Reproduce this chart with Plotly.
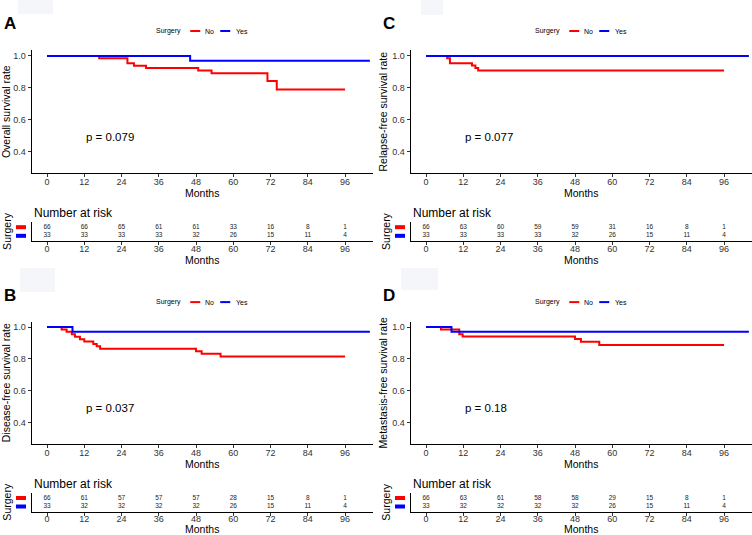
import plotly.graph_objects as go

W, H = 752, 535
FONT = "Arial, Liberation Sans, sans-serif"
RED = "#FF0000"
BLUE = "#0000FF"

# ---------------- data ----------------
month_ticks = [0, 12, 24, 36, 48, 60, 72, 84, 96]
surv_ticks = [0.4, 0.6, 0.8, 1.0]
surv_tick_labels = ["0.4", "0.6", "0.8", "1.0"]
groups = ["No", "Yes"]

# A: overall survival
a_no_t = [0, 16.8, 25.9, 28.0, 31.9, 48.7, 53.0, 71.0, 74.0, 96]
a_no_s = [1.0, 0.985, 0.954, 0.939, 0.924, 0.908, 0.892, 0.843, 0.790, 0.790]
a_yes_t = [0, 46.1, 104]
a_yes_s = [1.0, 0.970, 0.970]
a_risk_no = [66, 66, 65, 61, 61, 33, 16, 8, 1]
a_risk_yes = [33, 33, 33, 33, 32, 26, 15, 11, 4]

# B: disease-free survival
b_no_t = [0, 4.7, 6.3, 8.0, 9.0, 10.6, 12.0, 14.9, 16.0, 17.1, 48.0, 49.8, 55.9, 96]
b_no_s = [1.0, 0.985, 0.970, 0.955, 0.939, 0.924, 0.909, 0.894, 0.879, 0.864,
          0.848, 0.833, 0.815, 0.815]
b_yes_t = [0, 8.2, 104]
b_yes_s = [1.0, 0.970, 0.970]
b_risk_no = [66, 61, 57, 57, 57, 28, 15, 8, 1]
b_risk_yes = [33, 32, 32, 32, 32, 26, 15, 11, 4]

# C: relapse-free survival
c_no_t = [0, 6.8, 7.7, 14.8, 15.9, 16.8, 96]
c_no_s = [1.0, 0.985, 0.955, 0.940, 0.924, 0.909, 0.909]
c_yes_t = [0, 104]
c_yes_s = [1.0, 1.0]
c_risk_no = [66, 63, 60, 59, 59, 31, 16, 8, 1]
c_risk_yes = [33, 33, 33, 33, 32, 26, 15, 11, 4]

# D: metastasis-free survival
d_no_t = [0, 4.8, 10.7, 11.8, 48.0, 49.9, 55.8, 96]
d_no_s = [1.0, 0.985, 0.955, 0.940, 0.925, 0.908, 0.887, 0.887]
d_yes_t = [0, 8.2, 104]
d_yes_s = [1.0, 0.970, 0.970]
d_risk_no = [66, 63, 61, 58, 58, 29, 15, 8, 1]
d_risk_yes = [33, 32, 32, 32, 32, 26, 15, 11, 4]

panel_letters = ["A", "B", "C", "D"]
y_titles = ["Overall survival rate", "Disease-free survival rate",
            "Relapse-free survival rate", "Metastasis-free survival rate"]
p_values = ["p = 0.079", "p = 0.037", "p = 0.077", "p = 0.18"]

panels = [
    dict(letter=panel_letters[0], ytitle=y_titles[0], p=p_values[0],
         no=(a_no_t, a_no_s), yes=(a_yes_t, a_yes_s), risk=(a_risk_no, a_risk_yes)),
    dict(letter=panel_letters[1], ytitle=y_titles[1], p=p_values[1],
         no=(b_no_t, b_no_s), yes=(b_yes_t, b_yes_s), risk=(b_risk_no, b_risk_yes)),
    dict(letter=panel_letters[2], ytitle=y_titles[2], p=p_values[2],
         no=(c_no_t, c_no_s), yes=(c_yes_t, c_yes_s), risk=(c_risk_no, c_risk_yes)),
    dict(letter=panel_letters[3], ytitle=y_titles[3], p=p_values[3],
         no=(d_no_t, d_no_s), yes=(d_yes_t, d_yes_s), risk=(d_risk_no, d_risk_yes)),
]

# ---------------- layout geometry (pixels) ----------------
def PX(x):
    return x / W

def PY(y):
    return 1 - y / H

# left, right of plot area; top/bottom of main plot; top/bottom of risk table
geo = [
    dict(l=31.5, r=373, mt=50.4, mb=173, rt=222, rb=241),   # A
    dict(l=31.5, r=373, mt=321.5, mb=444, rt=493, rb=511.5),  # B
    dict(l=410.5, r=752, mt=50.4, mb=173, rt=222, rb=241),  # C
    dict(l=410.5, r=752, mt=321.5, mb=444, rt=493, rb=511.5),  # D
]

fig = go.Figure()
layout = dict(width=W, height=H, margin=dict(l=0, r=0, t=0, b=0),
              paper_bgcolor="white", plot_bgcolor="white", showlegend=False,
              font=dict(family=FONT, color="black"))
annotations = []
shapes = []

axis_common = dict(showgrid=False, zeroline=False, showline=True, linecolor="black",
                   linewidth=1, ticks="outside", ticklen=3, tickcolor="#333333",
                   automargin=False,
                   tickfont=dict(size=9, color="#333333", family=FONT))

for i, (p, g) in enumerate(zip(panels, geo)):
    m = 2 * i + 1
    r = 2 * i + 2
    xm, ym = f"x{m}", f"y{m}"
    xr, yr = f"x{r}", f"y{r}"
    xdom = [PX(g["l"]), PX(g["r"])]

    # main curves
    for (t, s), col in [(p["no"], RED), (p["yes"], BLUE)]:
        fig.add_trace(go.Scatter(x=t, y=s, mode="lines", line=dict(color=col, width=2, shape="hv"),
                                 xaxis=xm, yaxis=ym, hoverinfo="skip"))
    # risk numbers
    for counts, yv in [(p["risk"][0], 2), (p["risk"][1], 1)]:
        fig.add_trace(go.Scatter(x=month_ticks, y=[yv] * len(month_ticks), mode="text",
                                 text=[str(c) for c in counts],
                                 textfont=dict(size=6.5, color="#222222", family=FONT),
                                 xaxis=xr, yaxis=yr, hoverinfo="skip"))

    key = "" if m == 1 else str(m)
    layout[f"xaxis{key}"] = dict(axis_common, domain=xdom, range=[-5, 105], tickvals=month_ticks,
                                 anchor=ym, ticklabelstandoff=-3,
                                 title=dict(text="Months", font=dict(size=10.5, color="black"), standoff=2))
    layout[f"yaxis{key}"] = dict(axis_common, domain=[PY(g["mb"]), PY(g["mt"])], range=[0.265, 1.035],
                                 tickvals=surv_ticks, ticktext=surv_tick_labels, anchor=xm,
                                 title=dict(text=p["ytitle"], font=dict(size=10.5, color="black"), standoff=2))
    layout[f"xaxis{r}"] = dict(axis_common, domain=xdom, range=[-5, 105], tickvals=month_ticks,
                               anchor=yr, ticklabelstandoff=-4,
                               title=dict(text="Months", font=dict(size=10.5, color="black"), standoff=1))
    layout[f"yaxis{r}"] = dict(showgrid=False, zeroline=False, showline=True, linecolor="black",
                               linewidth=1, domain=[PY(g["rb"]), PY(g["rt"])], range=[0.4, 2.6],
                               tickvals=[1, 2], ticktext=["", ""], ticks="", anchor=xr,
                               automargin=False,
                               title=dict(text="Surgery", font=dict(size=10.5, color="black"), standoff=14))

    # p value
    annotations.append(dict(x=12, y=0.49, xref=xm, yref=ym, text=p["p"], showarrow=False,
                            xanchor="left", yanchor="middle", font=dict(size=11.5, color="black")))
    # Number at risk title
    annotations.append(dict(x=PX(g["l"]), y=PY(g["rt"] - 9), xref="paper", yref="paper",
                            text="Number at risk", showarrow=False, xanchor="left", yanchor="middle",
                            font=dict(size=12, color="black")))
    # panel letter
    annotations.append(dict(x=PX(g["l"] - 21.5), y=PY(g["mt"] - 26.5), xref="paper", yref="paper",
                            text=f"<b>{p['letter']}</b>", showarrow=False, xanchor="center",
                            yanchor="middle", font=dict(size=17, color="black")))
    # legend (Surgery: No / Yes)
    cx = (g["l"] + g["r"]) / 2
    ly = g["mt"] - 19.4
    annotations.append(dict(x=PX(cx - 33.5), y=PY(ly), xref="paper", yref="paper", text="Surgery",
                            showarrow=False, xanchor="center", yanchor="middle",
                            font=dict(size=7, color="black")))
    annotations.append(dict(x=PX(cx + 7), y=PY(ly), xref="paper", yref="paper", text=groups[0],
                            showarrow=False, xanchor="center", yanchor="middle",
                            font=dict(size=7, color="black")))
    annotations.append(dict(x=PX(cx + 39.5), y=PY(ly), xref="paper", yref="paper", text=groups[1],
                            showarrow=False, xanchor="center", yanchor="middle",
                            font=dict(size=7, color="black")))
    shapes.append(dict(type="line", xref="paper", yref="paper", x0=PX(cx - 12), x1=PX(cx - 2),
                       y0=PY(ly), y1=PY(ly), line=dict(color=RED, width=2)))
    shapes.append(dict(type="line", xref="paper", yref="paper", x0=PX(cx + 18), x1=PX(cx + 28),
                       y0=PY(ly), y1=PY(ly), line=dict(color=BLUE, width=2)))
    # risk table colour keys
    for yv, col in [(2, RED), (1, BLUE)]:
        shapes.append(dict(type="line", xref="paper", yref=yr, x0=PX(g["l"] - 15.5),
                           x1=PX(g["l"] - 5.5), y0=yv, y1=yv, line=dict(color=col, width=4)))

# faint boxes at the top-left of each panel
for (x0, y0, x1, y1) in [(18, 0, 53, 14), (421, 0, 443, 15), (20, 268, 55, 292), (401, 268, 438, 290)]:
    shapes.append(dict(type="rect", xref="paper", yref="paper", x0=PX(x0), x1=PX(x1),
                       y0=PY(y1), y1=PY(y0), fillcolor="#f5f6fa", line=dict(width=0), layer="below"))

layout["annotations"] = annotations
layout["shapes"] = shapes
fig.update_layout(**layout)
fig.write_html("out.html", config={"displayModeBar": False},
               post_script="document.body.style.margin='0px';document.body.style.overflow='hidden';")
